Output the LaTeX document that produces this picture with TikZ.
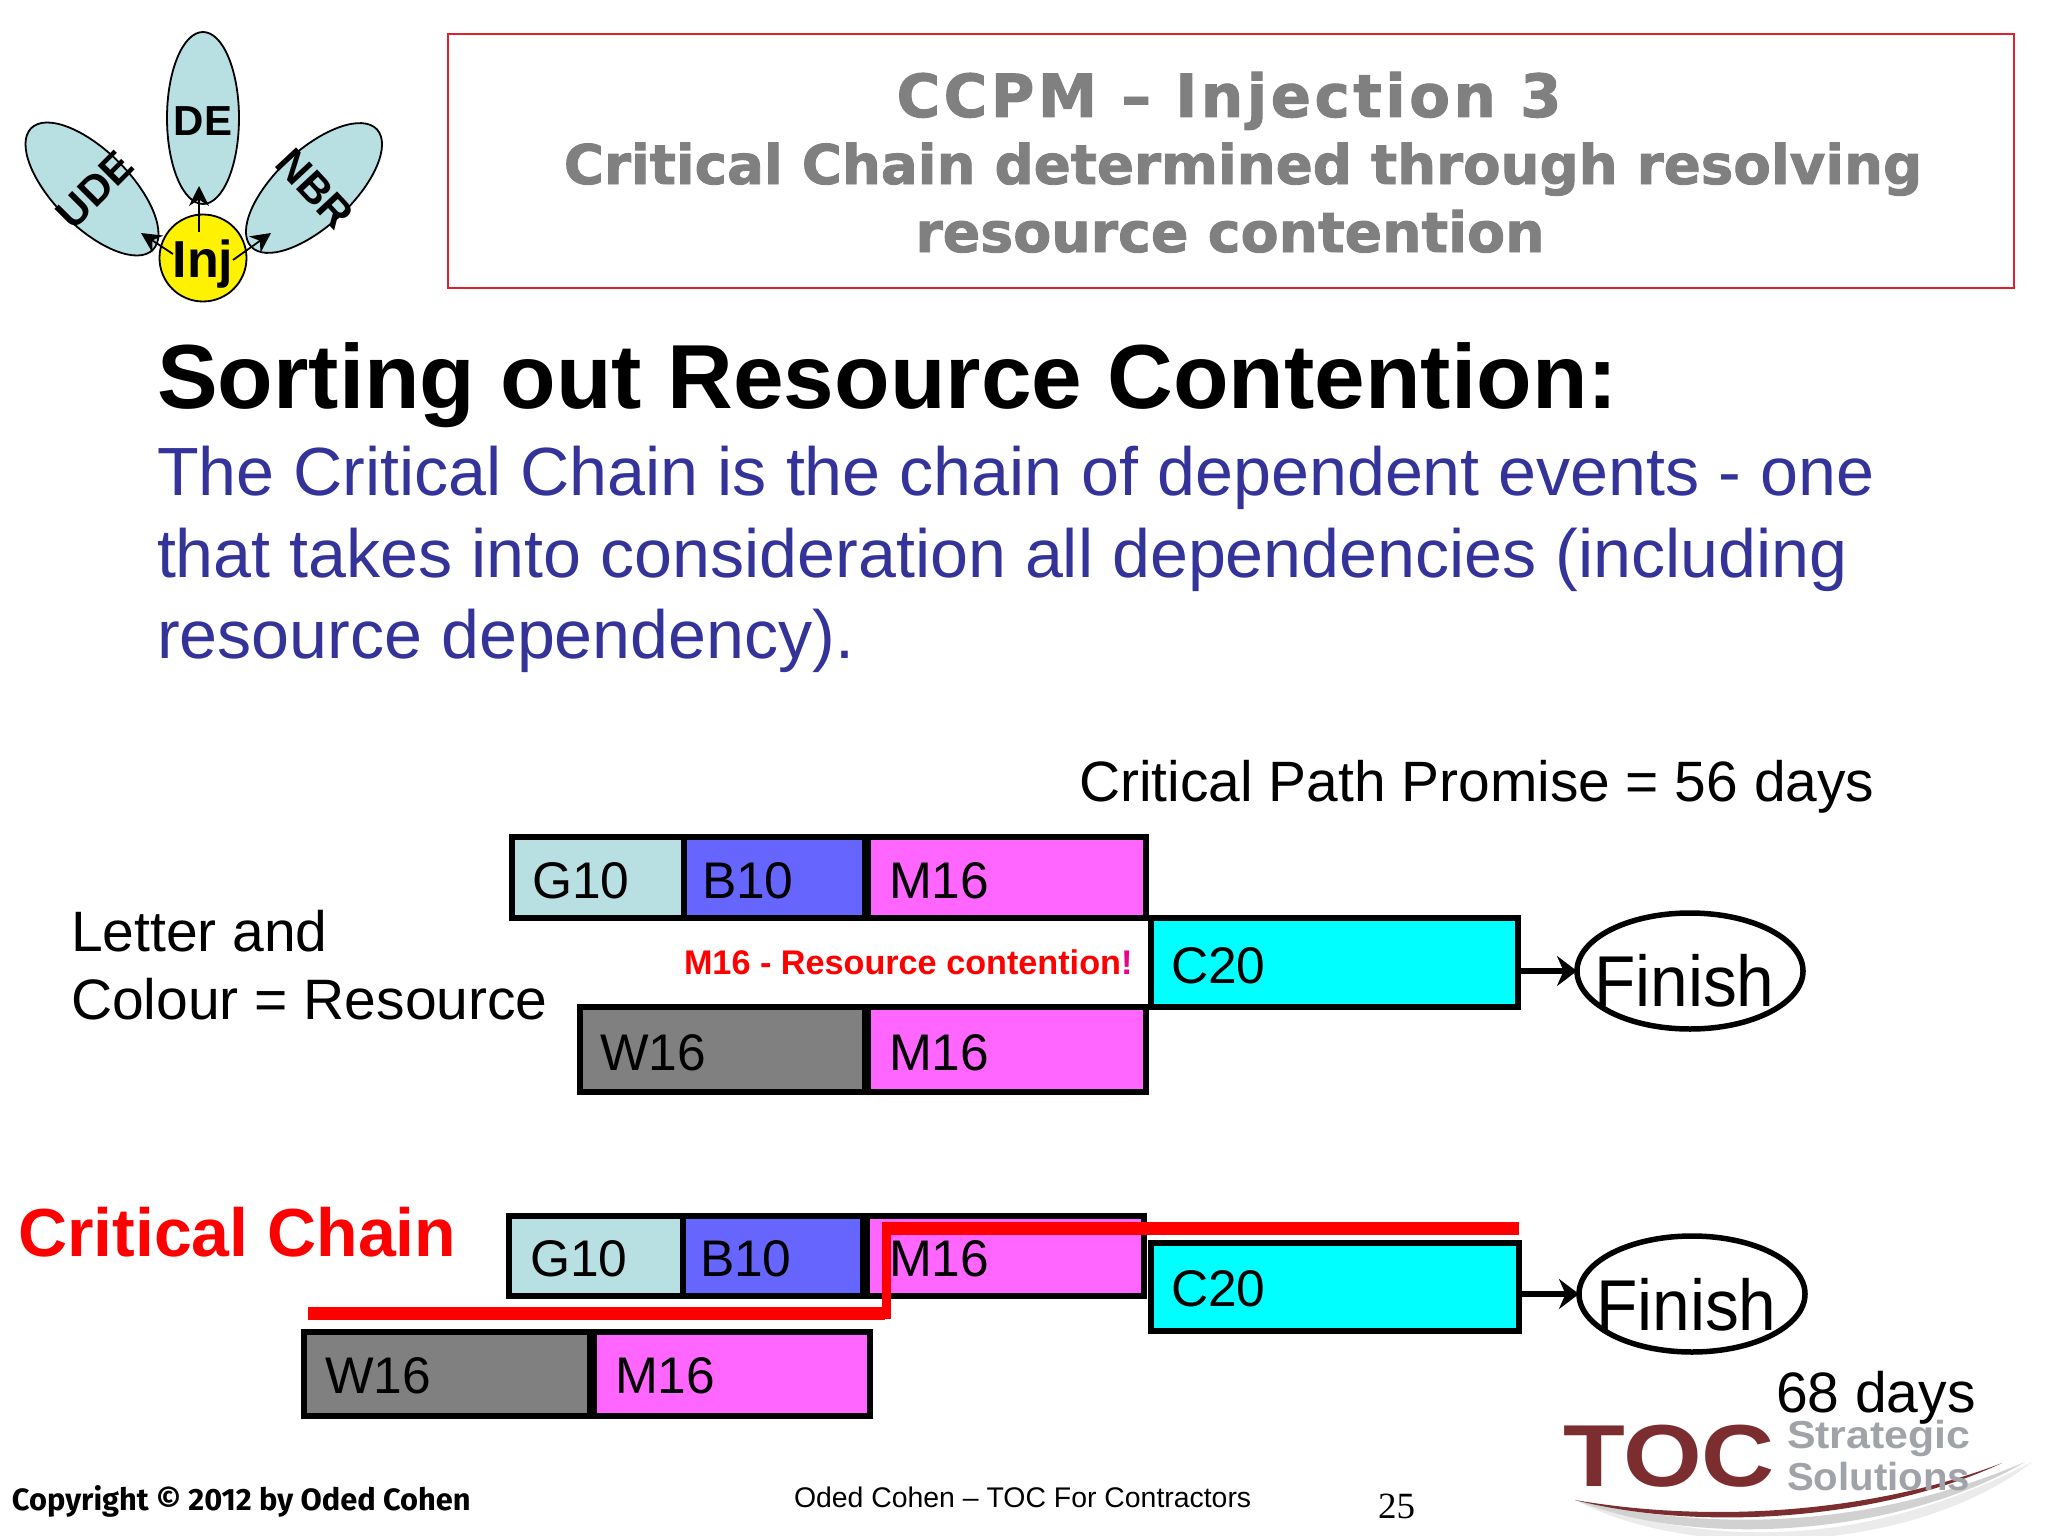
\documentclass[tikz,border=0pt]{standalone}
\usepackage{graphicx}
\usepackage{fontspec}
\setmainfont{Liberation Sans}
\newfontfamily\slabfont[FakeBold=1.6]{DejaVu Sans Bold}
\newfontfamily\spacedfont[FakeBold=1.6,LetterSpace=6]{DejaVu Sans Bold}
\newfontfamily\serfont{Liberation Serif}
\newfontfamily\copyfont{Fira Sans}
\definecolor{pale}{HTML}{B8DFE2}
\definecolor{bluebar}{HTML}{6666FF}
\definecolor{magbar}{HTML}{FF66FF}
\definecolor{greybar}{HTML}{808080}
\definecolor{cyanbar}{HTML}{00FFFF}
\definecolor{navy}{HTML}{333399}
\definecolor{titlegrey}{HTML}{808080}
\definecolor{boxred}{HTML}{E0202A}
\definecolor{logored}{HTML}{7B2D30}
\definecolor{logogrey}{HTML}{A0A3A8}
\newcommand{\fs}[1]{\fontsize{#1pt}{#1pt}\selectfont}
\usetikzlibrary{shapes.geometric,arrows.meta}
\tikzset{
  x=1pt,y=-1pt,
  every node/.style={inner sep=0pt,outer sep=0pt},
  txt/.style={anchor=base west},
  lab/.style={anchor=base west,font=\fs{51.5}},
  barline/.style={draw=black,line width=5.5pt},
  petal/.style={ellipse,draw=black,line width=1.8pt,fill=pale,minimum width=#1,minimum height=172pt},
  petaltxt/.style={font=\fs{42}\bfseries},
  finishnode/.style={ellipse,draw=black,line width=5.5pt,minimum width=226pt,minimum height=116pt},
  arr/.style={-{Stealth[length=20pt,width=20pt]},line width=1.8pt},
  farr/.style={-{Stealth[length=20pt,width=30pt]},line width=5.5pt},
  titletxt/.style={font=\slabfont\fs{#1},text=titlegrey},
}
\begin{document}
\begin{tikzpicture}
\useasboundingbox (0,0) rectangle (2048,1536);
\fill[white] (0,0) rectangle (2048,1536);
% petals
\node[petal=72pt] (de) at (203,118) {};
\node[petal=76pt,rotate=45] (ude) at (92,189) {};
\node[petal=76pt,rotate=-47] (nbr) at (314,188) {};
\node[circle,draw=black,line width=1.8pt,fill=yellow,minimum size=87pt] (inj) at (203,258) {};
\node[petaltxt] (detxt) at (203,121) {DE};
\node[petaltxt,rotate=45] (udetxt) at (95,190) {UDE};
\node[petaltxt,rotate=-47] (nbrtxt) at (315,189) {NBR};
\node[font=\fs{52}\bfseries] (injtxt) at (203,264) {Inj};
\draw[arr] (199,232) -- (199,186);
\draw[arr] (173,254) -- (141,233);
\draw[arr] (233,260) -- (271,233);
% title
\node[draw=boxred,line width=2pt,minimum width=1566pt,minimum height=254pt,anchor=north west] (titlebox) at (448,34) {};
\node[anchor=base,font=\spacedfont\fs{59.4},text=titlegrey] (t1) at (1229,117) {CCPM – Injection 3};
\node[anchor=base,titletxt=54.7] (t2) at (1243,184) {Critical Chain determined through resolving};
\node[anchor=base,titletxt=55.4] (t3) at (1230,252) {resource contention};
% heading
\node[txt,font=\fs{91}\bfseries] (head) at (157,408) {Sorting out Resource Contention:};
\node[txt,font=\fs{68.2},text=navy] (b1) at (157,495) {The Critical Chain is the chain of dependent events - one};
\node[txt,font=\fs{68.2},text=navy] (b2) at (157,577) {that takes into consideration all dependencies (including};
\node[txt,font=\fs{68.2},text=navy] (b3) at (157,658) {resource dependency).};
\node[txt,font=\fs{56.9}] (cpp) at (1079,801) {Critical Path Promise = 56 days};
\node[txt,font=\fs{57}] (la) at (71,951) {Letter and};
\node[txt,font=\fs{57}] (lb) at (71,1019) {Colour = Resource};
\node[txt,font=\fs{34.2}\bfseries,text=red] (cont) at (684,974) {M16 - Resource contention\textcolor{magenta}{!}};
% top gantt
\draw[barline,fill=pale] (512,837) rectangle (684,918);
\draw[barline,fill=bluebar] (684,837) rectangle (865,918);
\draw[barline,fill=magbar] (868,837) rectangle (1146,918);
\draw[barline,fill=cyanbar] (1151,918) rectangle (1518,1007);
\draw[barline,fill=greybar] (580,1007) rectangle (865,1092);
\draw[barline,fill=magbar] (868,1007) rectangle (1146,1092);
\node[lab] (a1) at (532,898) {G10};
\node[lab] (a2) at (702,898) {B10};
\node[lab] (a3) at (889,898) {M16};
\node[lab] (a4) at (1171,983) {C20};
\node[lab] (a5) at (600,1070) {W16};
\node[lab] (a6) at (889,1070) {M16};
\node[finishnode] (f1) at (1690,971) {};
\node[txt,font=\fs{72}] (f1t) at (1594,1006) {\scalebox{0.94}[1]{Finish}};
\coordinate (c1) at (1518,971);
\draw[farr] (c1) -- (f1);
\node[finishnode] (f2) at (1692,1294) {};
\node[txt,font=\fs{72}] (f2t) at (1596,1330) {\scalebox{0.94}[1]{Finish}};
% bottom gantt
\draw[barline,fill=pale] (509,1216) rectangle (683,1296);
\draw[barline,fill=bluebar] (683,1216) rectangle (863,1296);
\draw[barline,fill=magbar] (867,1216) rectangle (1144,1296);
\draw[barline,fill=cyanbar] (1151,1243) rectangle (1519,1331);
\draw[barline,fill=greybar] (304,1332) rectangle (590,1416);
\draw[barline,fill=magbar] (594,1332) rectangle (870,1416);
\node[lab] (d1) at (530,1276) {G10};
\node[lab] (d2) at (700,1276) {B10};
\node[lab] (d3) at (889,1276) {M16};
\node[lab] (d4) at (1171,1306) {C20};
\node[lab] (d5) at (325,1393) {W16};
\node[lab] (d6) at (615,1393) {M16};
\coordinate (c2) at (1519,1294);
\draw[farr] (c2) -- (f2);
\draw[draw=red,line width=13pt] (308,1313) -- (885,1313);
\draw[draw=red,line width=9pt] (886,1319) -- (886,1228);
\draw[draw=red,line width=13pt] (882,1228) -- (1519,1228);
\node[txt,font=\fs{68}\bfseries,text=red] (cc) at (18,1256) {Critical Chain};
\node[txt,font=\fs{57}] (d68) at (1776,1412) {68 days};
% footer
\node[txt,font=\copyfont\bfseries\fs{30.8}] (copy) at (12,1510) {Copyright © 2012 by Oded Cohen};
\node[txt,font=\fs{28.4}] (foot) at (794,1507) {Oded Cohen – TOC For Contractors};
\node[txt,font=\serfont\fs{37}] (num) at (1378,1518) {25};
% logo
\fill[black!8] (1575,1500) .. controls (1750,1560) and (1900,1530) .. (2032,1462) .. controls (1920,1550) and (1700,1565) .. (1575,1500) -- cycle;
\fill[black!18] (1575,1500) .. controls (1750,1540) and (1900,1515) .. (2025,1462) .. controls (1900,1535) and (1700,1550) .. (1575,1500) -- cycle;
\fill[logored] (1575,1500) .. controls (1720,1525) and (1880,1510) .. (2002,1463) .. controls (1880,1520) and (1700,1532) .. (1575,1500) -- cycle;
\node[anchor=base west,font=\bfseries\fs{88},text=logored] (toc) at (1563,1486) {\scalebox{1.15}[1]{TOC}};
\node[anchor=base west,font=\bfseries\fs{39},text=logogrey] (s1) at (1787,1448) {\scalebox{1.1}[1]{Strategic}};
\node[anchor=base west,font=\bfseries\fs{39},text=logogrey] (s2) at (1787,1490) {\scalebox{1.03}[1]{Solutions}};
\end{tikzpicture}
\end{document}
